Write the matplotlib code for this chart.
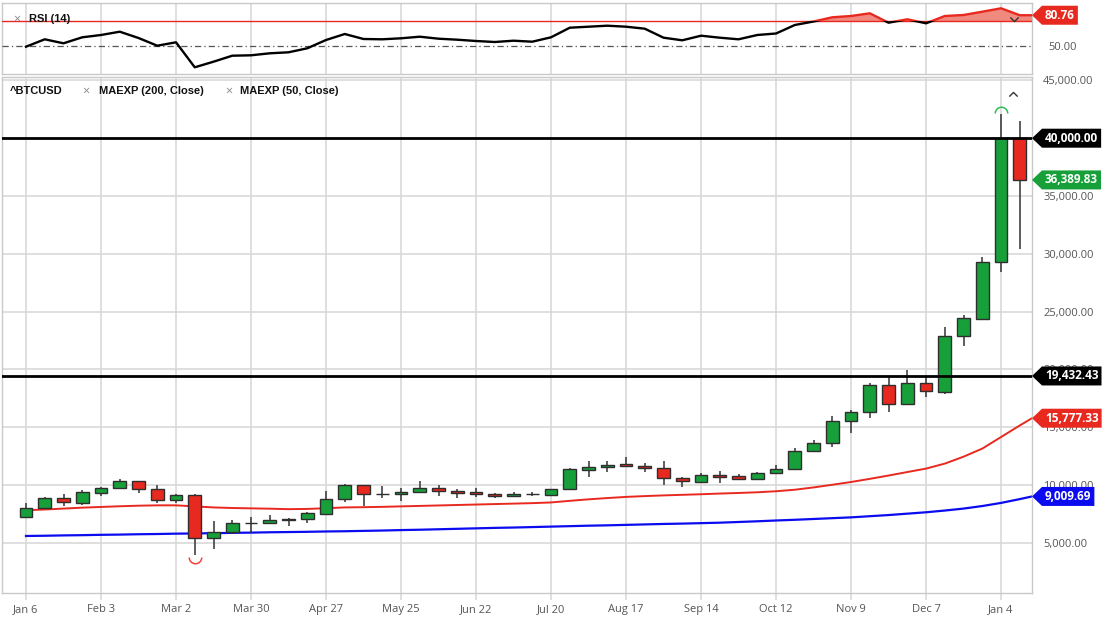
import matplotlib
matplotlib.use('Agg')
import matplotlib.pyplot as plt
import numpy as np
from matplotlib.patches import Polygon, Rectangle
from matplotlib.path import Path
from matplotlib.transforms import IdentityTransform, ScaledTranslation

plt.rcParams['font.family'] = ['Open Sans', 'DejaVu Sans']

# ---------------- data (weekly ^BTCUSD, Jan 6 2020 .. Jan 11 2021) ----------------
week_labels = ["Jan 6", "Feb 3", "Mar 2", "Mar 30", "Apr 27", "May 25", "Jun 22",
               "Jul 20", "Aug 17", "Sep 14", "Oct 12", "Nov 9", "Dec 7", "Jan 4"]

opens = [7260, 8040, 8900, 8470, 9340, 9740, 10320, 9650, 8670, 9160, 5390, 5940, 6700, 6690,
         6940, 7060, 7520, 8760, 9970, 9220, 9190, 9420, 9710, 9480, 9380, 9210, 9080, 9240,
         9140, 9630, 11330, 11530, 11820, 11650, 11500, 10610, 10290, 10890, 10750, 10550,
         11040, 11360, 12940, 13660, 15540, 16290, 18620, 16980, 18820, 18070, 22890, 24390,
         29260, 40000]
closes = [8040, 8880, 8500, 9370, 9740, 10320, 9650, 8670, 9135, 5390, 5960, 6680, 6690, 6940,
          7090, 7550, 8760, 9970, 9250, 9230, 9420, 9710, 9470, 9310, 9220, 9070, 9250, 9190,
          9630, 11350, 11560, 11760, 11650, 11470, 10580, 10320, 10890, 10690, 10550, 11070,
          11360, 12970, 13660, 15570, 16290, 18620, 17010, 18820, 18100, 22920, 24420, 29260,
          39990, 36389.83]
highs = [8470, 8960, 9220, 9570, 9800, 10490, 10350, 10030, 9180, 9200, 6890, 6940, 7230, 7430,
         7180, 7690, 9480, 10060, 10000, 9910, 9710, 10350, 9970, 9680, 9770, 9280, 9420, 9370,
         9660, 11440, 12080, 12050, 12450, 11870, 12080, 10660, 11070, 11180, 10920, 11120,
         11760, 13170, 13890, 15970, 16490, 18800, 19370, 19920, 19370, 23700, 24680, 29690,
         42070, 41460]
lows = [7240, 7990, 8210, 8240, 9080, 9680, 9340, 8440, 8410, 3940, 4460, 5760, 5880, 6630,
        6480, 6740, 7460, 8560, 8180, 8850, 8650, 9370, 9080, 8900, 8990, 8850, 8930, 9020,
        9080, 9570, 10690, 11150, 11600, 11120, 9970, 9860, 10230, 10140, 10400, 10490,
        11010, 11300, 12830, 13260, 14470, 15770, 16290, 16890, 17640, 17900, 22020, 24350,
        28430, 30390]

ema50 = [7820, 7880, 7960, 8040, 8100, 8160, 8210, 8240, 8240, 8150, 8060, 8010, 7980, 7950,
         7910, 7930, 7990, 8060, 8080, 8110, 8150, 8190, 8230, 8270, 8310, 8350, 8390, 8430,
         8490, 8630, 8760, 8870, 8970, 9040, 9100, 9150, 9200, 9260, 9310, 9370, 9460, 9590,
         9790, 10020, 10260, 10530, 10820, 11120, 11420, 11850, 12450, 13150, 14150, 15150]
ema200 = [5590, 5610, 5640, 5660, 5690, 5710, 5740, 5760, 5790, 5810, 5830, 5860, 5880, 5910,
          5930, 5950, 5980, 6000, 6030, 6060, 6100, 6130, 6170, 6210, 6250, 6290, 6320, 6360,
          6400, 6440, 6480, 6510, 6550, 6590, 6630, 6660, 6700, 6740, 6800, 6860, 6930, 6990,
          7060, 7130, 7200, 7300, 7400, 7520, 7640, 7790, 7960, 8180, 8450, 8780]
ema50_last = 15777.33
ema200_last = 9009.69

rsi = [49.3, 56.7, 52.7, 58.7, 61, 64.3, 58, 50.3, 53.7, 28.7, 34.3, 40.3, 40.7, 42.7, 43.7,
       47.7, 56, 62, 57, 56.7, 57.7, 59.3, 57.3, 56.3, 55, 54, 55.3, 54.3, 58.7, 68.3, 69.3,
       70.3, 69.3, 67.3, 58.3, 55.7, 60.3, 58.3, 56.7, 61, 62.5, 71, 74.5, 78.7, 80, 82.7,
       73.3, 76.7, 72.7, 80, 81, 84.3, 87.7, 80.76]
rsi_upper = 75
rsi_mid = 50

levels = [40000.00, 19432.43]
price_ticks = [5000, 10000, 15000, 20000, 25000, 30000, 35000, 40000, 45000]

# ---------------- layout ----------------
W, H = 1105, 625
fig = plt.figure(figsize=(W / 100, H / 100), dpi=100)


def frac(x0, y0, x1, y1):
    return [x0 / W, 1 - y1 / H, (x1 - x0) / W, (y1 - y0) / H]


ax = fig.add_axes(frac(2, 77, 1032, 593))
axr = fig.add_axes(frac(2, 3.3, 1032, 74))

GREEN = '#17a03a'
RED = '#e8291f'
BLUE = '#0b0bf0'
GRID = '#d6d6d6'
SPINE = '#c9c9c9'
TXT = '#555555'

n = len(opens)
x = np.arange(n)
o = np.array(opens); c = np.array(closes)
hi = np.array(highs); lo = np.array(lows)
XMIN, XMAX = -1.28, 53.65

tick_pos = np.arange(0, n, 4)[:len(week_labels)]

for a in (ax, axr):
    a.set_xlim(XMIN, XMAX)
    a.set_xticks(tick_pos)
    a.grid(axis='x', color=GRID, lw=1.1, zorder=0)
    for s in a.spines.values():
        s.set_color(SPINE)
        s.set_linewidth(1.0)

# main panel
ax.set_ylim(657, 45294)
ax.set_yticks(price_ticks)
# the 40,000 tick label is fully hidden behind the 40,000.00 level badge in the reference
ax.set_yticklabels(["" if v in levels else f"{v:,.2f}" for v in price_ticks])
ax.yaxis.tick_right()
ax.tick_params(axis='y', length=0, pad=8, labelsize=8, labelcolor=TXT)
ax.grid(axis='y', color=GRID, lw=1.1, zorder=0)
ax.set_xticklabels(week_labels)
ax.tick_params(axis='x', length=5, color=GRID, width=1.1, pad=3, labelsize=8, labelcolor=TXT)

ax.plot(np.r_[x, XMAX], np.r_[ema200, ema200_last], color=BLUE, lw=1.6, zorder=2)
ax.plot(np.r_[x, XMAX], np.r_[ema50, ema50_last], color=RED, lw=1.4, zorder=2)

ax.vlines(x, lo, hi, color='#333333', lw=1.1, zorder=3)
cols = np.where(c >= o, GREEN, RED)
ax.bar(x, np.abs(c - o), bottom=np.minimum(o, c), width=0.68, color=cols,
       edgecolor='#2e2e2e', linewidth=1.0, zorder=4)

for lv in levels:
    ax.axhline(lv, color='black', lw=2.0, zorder=5)

# high / low markers (arcs)
lower_arc = Path.arc(180, 360)
upper_arc = Path.arc(0, 180)
i_lo = int(np.argmin(lo)); i_hi = int(np.argmax(hi))
ax.plot([i_lo], [lo[i_lo]], marker=lower_arc, ms=9, mfc='none', mec='#f0443a', mew=1.1,
        transform=ax.transData + ScaledTranslation(0, -2 / 100, fig.dpi_scale_trans), zorder=6)
ax.plot([i_hi], [hi[i_hi]], marker=upper_arc, ms=9, mfc='none', mec='#2fbf55', mew=1.1,
        transform=ax.transData + ScaledTranslation(0, 1 / 100, fig.dpi_scale_trans), zorder=6)

chev_up = Path([(-1, -0.5), (0, 0.5), (1, -0.5)], [Path.MOVETO, Path.LINETO, Path.LINETO])
chev_dn = Path([(-1, 0.5), (0, -0.5), (1, 0.5)], [Path.MOVETO, Path.LINETO, Path.LINETO])
ax.plot([0.9816], [0.968], marker=chev_up, ms=6, mfc='none', mec='#333', mew=1.0,
        transform=ax.transAxes, clip_on=False, zorder=6)

# RSI panel
axr.set_ylim(22, 92.7)
axr.set_yticks([rsi_mid])
axr.yaxis.set_major_formatter(matplotlib.ticker.FuncFormatter(lambda v, p: f"{v:.2f}"))
axr.yaxis.tick_right()
axr.tick_params(axis='y', length=0, pad=12, labelsize=8, labelcolor=TXT)
axr.tick_params(axis='x', length=0, labelbottom=False)

rx = np.r_[x, XMAX]
ry = np.r_[rsi, rsi[-1]]
axr.fill_between(rx, rsi_upper, ry, where=ry >= rsi_upper, interpolate=True,
                 color='#f08a7f', lw=0, zorder=2)
axr.axhline(rsi_upper, color=RED, lw=1.0, zorder=3)
axr.axhline(rsi_mid, color='#555555', lw=0.9, ls=(0, (5, 2.5, 1, 2.5)), zorder=3)
lb, = axr.plot(rx, ry, color='black', lw=1.7, zorder=4)
lr, = axr.plot(rx, ry, color=RED, lw=1.7, zorder=4)
lb.set_clip_path(Rectangle((XMIN, 0), XMAX - XMIN, rsi_upper, transform=axr.transData))
lr.set_clip_path(Rectangle((XMIN, rsi_upper), XMAX - XMIN, 100, transform=axr.transData))
axr.plot([0.9825], [0.778], marker=chev_dn, ms=6, mfc='none', mec='#333', mew=1.0,
         transform=axr.transAxes, clip_on=False, zorder=6)

# legends / titles
def ftext(px, py, s, **kw):
    fig.text(px / W, 1 - py / H, s, va='center', ha='left', **kw)

bold = dict(family=['Liberation Sans', 'DejaVu Sans'], fontweight='bold', fontsize=8, color='#111111')
ftext(10, 91.5, "^BTCUSD", **bold)
ftext(82, 91.5, "×", fontsize=9, color='#8a8a8a')
ftext(99, 91.5, "MAEXP (200, Close)", **bold)
ftext(225, 91.5, "×", fontsize=9, color='#8a8a8a')
ftext(240, 91.5, "MAEXP (50, Close)", **bold)
ftext(13, 19, "×", fontsize=9, color='#8a8a8a')
ftext(29, 19, "RSI (14)", **bold)

# right-side value badges
fig.canvas.draw()
renderer = fig.canvas.get_renderer()


def badge(a, val, label, color):
    x0 = a.transAxes.transform((1, 0))[0]
    yd = a.transData.transform((0, val))[1]
    tip, pad, h = 10, 3, 19
    t = fig.text(x0 + tip + pad, yd, label, transform=IdentityTransform(), va='center',
                 ha='left', color='white', fontsize=8.5, fontweight='bold', zorder=11)
    w = t.get_window_extent(renderer).width
    verts = [(x0, yd), (x0 + tip, yd + h / 2), (x0 + tip + w + 2 * pad, yd + h / 2),
             (x0 + tip + w + 2 * pad, yd - h / 2), (x0 + tip, yd - h / 2)]
    p = Polygon(verts, closed=True, transform=IdentityTransform(), facecolor=color,
                edgecolor='none', zorder=10)
    fig.add_artist(p)


badge(ax, levels[0], f"{levels[0]:,.2f}", 'black')
badge(ax, closes[-1], f"{closes[-1]:,.2f}", GREEN)
badge(ax, levels[1], f"{levels[1]:,.2f}", 'black')
badge(ax, ema50_last, f"{ema50_last:,.2f}", RED)
badge(ax, ema200_last, f"{ema200_last:,.2f}", BLUE)
badge(axr, rsi[-1], f"{rsi[-1]:.2f}", RED)

fig.savefig('out.png', dpi=100)
